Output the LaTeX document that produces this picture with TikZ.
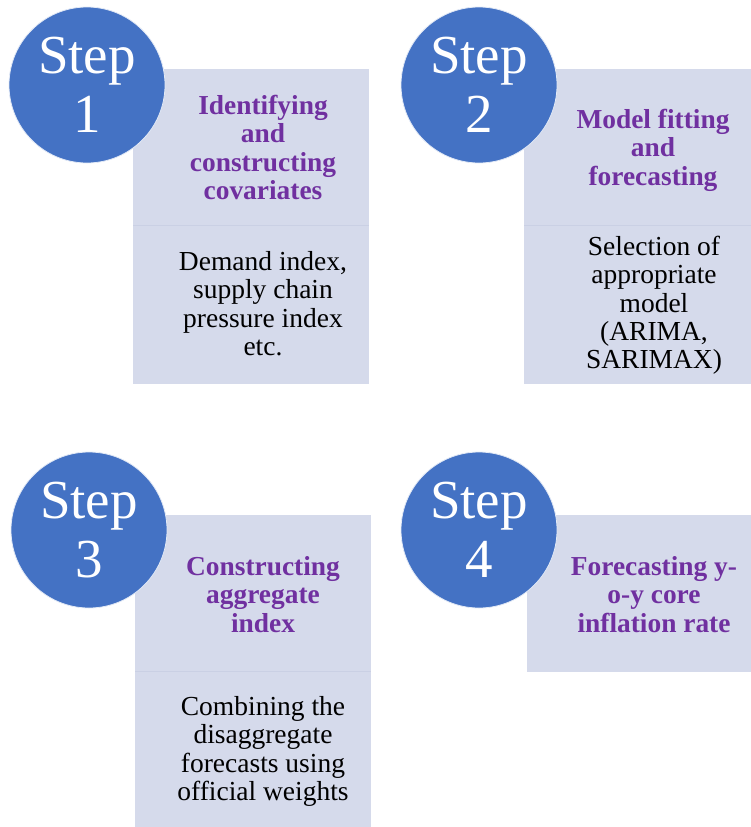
\documentclass[tikz,border=0pt]{standalone}
\usepackage{fontspec}
\setmainfont{Liberation Serif}
\definecolor{stepblue}{HTML}{4472C4}
\definecolor{panel}{HTML}{D5DAEB}
\definecolor{panelrule}{HTML}{CAD0E4}
\definecolor{headpurple}{HTML}{7030A0}
% invisible strut that fixes the height of a node's first line
\newcommand\firstline{\rule{0pt}{0.75em}}

\begin{document}
\begin{tikzpicture}[x=1pt,y=-1pt,
  panelbox/.style={rectangle, fill=panel, draw=none, inner sep=0pt,
    anchor=north west, minimum width=236pt},
  stepdisc/.style={circle, fill=stepblue, draw=white!85!stepblue,
    line width=0.8pt, inner sep=0pt, minimum size=156pt},
  steplabel/.style={anchor=north, inner sep=0pt, align=center, text=white,
    font=\rmfamily\fontsize{55}{59}\selectfont},
  headtext/.style={anchor=north, inner sep=0pt, align=center,
    text=headpurple, font=\rmfamily\fontsize{27.4}{28.5}\selectfont\bfseries},
  bodytext/.style={anchor=north, inner sep=0pt, align=center, text=black,
    font=\rmfamily\fontsize{27.5}{28.4}\selectfont},
  divider/.style={draw=panelrule, line width=1pt}]

\clip (0,0) rectangle (751,827);

% panels (upper part: heading, lower part: details)
\node[panelbox, minimum height=156pt] (p1top) at (133,69) {};
\node[panelbox, minimum height=159pt] (p1low) at (133,225) {};
\node[panelbox, minimum height=156pt] (p2top) at (524,69) {};
\node[panelbox, minimum height=159pt] (p2low) at (524,225) {};
\node[panelbox, minimum height=156pt] (p3top) at (135,515) {};
\node[panelbox, minimum height=170pt] (p3low) at (135,671) {};
\node[panelbox, minimum height=157pt] (p4top) at (527,515) {};

\draw[divider] (p1top.south west) -- (p1top.south east);
\draw[divider] (p2top.south west) -- (p2top.south east);
\draw[divider] (p3top.south west) -- (p3top.south east);

% step discs
\node[stepdisc] (s1) at (87,85) {};
\node[stepdisc] (s2) at (479,85) {};
\node[stepdisc] (s3) at (89,530) {};
\node[stepdisc] (s4) at (479,530) {};

\node[steplabel] (l1) at (87,31.75) {\firstline Step\\1};
\node[steplabel] (l2) at (479,31.75) {\firstline Step\\2};
\node[steplabel] (l3) at (89,476.75) {\firstline Step\\3};
\node[steplabel] (l4) at (479,476.75) {\firstline Step\\4};

% headings
\node[headtext] (h1) at (263,93.45) {\firstline Identifying\\and\\constructing\\covariates};
\node[headtext] (h2) at (653,107.45) {\firstline Model fitting\\and\\forecasting};
\node[headtext] (h3) at (263,554.45) {\firstline Constructing\\aggregate\\index};
\node[headtext] (h4) at (654,554.45) {\firstline Forecasting y-\\o-y core\\inflation rate};

% details
\node[bodytext] (d1) at (263,249.4) {\firstline Demand index,\\supply chain\\pressure index\\etc.};
\node[bodytext] (d2) at (654,234.4) {\firstline Selection of\\appropriate\\model\\(ARIMA,\\SARIMAX)};
\node[bodytext] (d3) at (263,694.4) {\firstline Combining the\\disaggregate\\forecasts using\\official weights};
\end{tikzpicture}
\end{document}
